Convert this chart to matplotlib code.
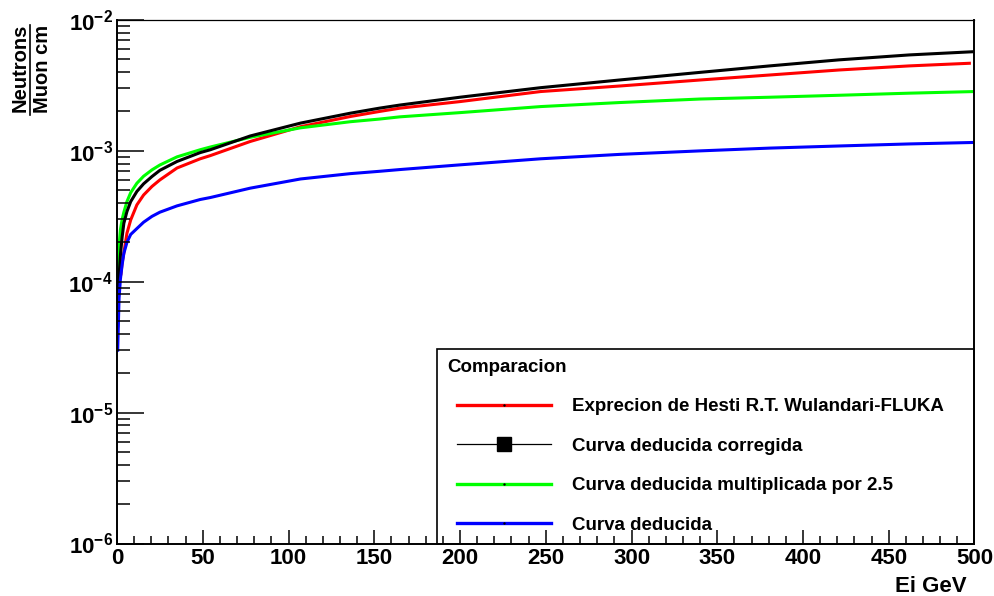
import numpy as np
import matplotlib
matplotlib.use("Agg")
import matplotlib.pyplot as plt
from matplotlib.lines import Line2D
from matplotlib.ticker import MultipleLocator, LogLocator, FuncFormatter, NullFormatter
from matplotlib.legend_handler import HandlerLine2D

plt.rcParams["font.family"] = ["Liberation Sans", "DejaVu Sans"]
plt.rcParams["font.weight"] = "bold"
plt.rcParams["mathtext.fontset"] = "custom"
plt.rcParams["mathtext.rm"] = "Liberation Sans:bold"
plt.rcParams["mathtext.bf"] = "Liberation Sans:bold"
plt.rcParams["mathtext.it"] = "Liberation Sans:bold"
plt.rcParams["mathtext.default"] = "rm"

# Muon energy (GeV) and neutron yield (neutrons / (muon cm))
energia = [0.4, 1.2, 2.0, 3.0, 4.0, 5.8, 8.0, 11.6, 15.5, 20.4, 25, 35,
           48.5, 54.4, 77.7, 107, 136, 153, 165, 200, 247, 293, 340,
           380.6, 421, 462, 500]
deducida = [3.0e-5, 7.5e-5, 1.05e-4, 1.35e-4, 1.65e-4, 2.0e-4, 2.3e-4,
            2.55e-4, 2.85e-4, 3.16e-4, 3.4e-4, 3.8e-4, 4.25e-4, 4.4e-4,
            5.19e-4, 6.1e-4, 6.7e-4, 6.98e-4, 7.2e-4, 7.82e-4, 8.7e-4,
            9.4e-4, 1.0e-3, 1.05e-3, 1.09e-3, 1.13e-3, 1.16e-3]
deducida_x25 = [7.5e-5, 1.9e-4, 2.5e-4, 3.0e-4, 3.4e-4, 4.1e-4, 4.8e-4,
                5.66e-4, 6.4e-4, 7.16e-4, 7.8e-4, 9.0e-4, 1.02e-3, 1.07e-3,
                1.27e-3, 1.5e-3, 1.67e-3, 1.75e-3, 1.82e-3, 1.96e-3,
                2.18e-3, 2.34e-3, 2.49e-3, 2.57e-3, 2.66e-3, 2.76e-3,
                2.84e-3]
corregida = [4.6e-5, 1.1e-4, 1.6e-4, 2.2e-4, 2.8e-4, 3.44e-4, 4.1e-4,
             4.9e-4, 5.6e-4, 6.37e-4, 7.1e-4, 8.3e-4, 9.7e-4, 1.02e-3,
             1.30e-3, 1.63e-3, 1.94e-3, 2.12e-3, 2.24e-3, 2.57e-3, 3.04e-3,
             3.48e-3, 3.98e-3, 4.46e-3, 4.96e-3, 5.41e-3, 5.73e-3]

energia_fluka = [2.3, 3.0, 4.0, 5.8, 8.0, 11.6, 15.5, 20.4, 25, 35, 48.5,
                 54.4, 77.7, 107, 136, 153, 165, 200, 247, 293, 340, 380.6,
                 421, 462, 497]
fluka = [1.15e-4, 1.4e-4, 1.66e-4, 2.35e-4, 2.97e-4, 3.87e-4, 4.6e-4,
         5.35e-4, 6.0e-4, 7.4e-4, 8.7e-4, 9.2e-4, 1.18e-3, 1.53e-3, 1.83e-3,
         2.0e-3, 2.12e-3, 2.38e-3, 2.84e-3, 3.13e-3, 3.48e-3, 3.80e-3,
         4.15e-3, 4.46e-3, 4.67e-3]

etiquetas = ["Exprecion de Hesti R.T. Wulandari-FLUKA",
             "Curva deducida corregida",
             "Curva deducida multiplicada por 2.5",
             "Curva deducida"]

W, H = 995, 596
fig = plt.figure(figsize=(W / 100, H / 100), dpi=100)
x0, x1, y0, y1 = 117.0, 974.5, 20.0, 543.5
ax = fig.add_axes([x0 / W, 1 - y1 / H, (x1 - x0) / W, (y1 - y0) / H])

lw = 2.2
ax.plot(energia_fluka, fluka, color="#ff0000", lw=lw, zorder=2.0)
ax.plot(energia, deducida_x25, color="#00ff00", lw=lw, zorder=2.05)
ax.plot(energia, corregida, color="black", lw=lw, zorder=2.1)
ax.plot(energia, deducida, color="#0000ff", lw=lw, zorder=2.15)

ax.set_xlim(0, 500)
ax.set_yscale("log")
ax.set_ylim(1e-6, 1e-2)

ax.xaxis.set_major_locator(MultipleLocator(50))
ax.xaxis.set_minor_locator(MultipleLocator(10))
ax.yaxis.set_major_locator(LogLocator(base=10))
ax.yaxis.set_minor_locator(LogLocator(base=10, subs=np.arange(2, 10)))
ax.yaxis.set_minor_formatter(NullFormatter())
ax.yaxis.set_major_formatter(
    FuncFormatter(lambda v, _: r"$10^{%d}$" % int(round(np.log10(v)))))

ax.tick_params(axis="y", which="major", direction="in", length=19.5,
               width=1.1, left=True, right=False, labelsize=16, pad=2.9)
ax.tick_params(axis="y", which="minor", direction="in", length=9.5,
               width=1.1, left=True, right=False)
ax.tick_params(axis="x", which="major", direction="in", length=10,
               width=1.1, bottom=True, top=False, labelsize=16, pad=3.2)
ax.tick_params(axis="x", which="minor", direction="in", length=6,
               width=1.1, bottom=True, top=False)

for side in ["left", "bottom", "right"]:
    ax.spines[side].set_linewidth(1.4)
ax.spines["top"].set_linewidth(0.9)
ax.set_axisbelow(False)

# legend
fs_leg = 13.5
fs_px = fs_leg * 100 / 72
handles = [
    Line2D([], [], color="#ff0000", lw=2.4, marker=".", markersize=1.5,
           mfc="black", mec="black"),
    Line2D([], [], color="black", lw=0.9, marker="s", markersize=10,
           mfc="black", mec="black"),
    Line2D([], [], color="#00ff00", lw=2.4, marker=".", markersize=1.5,
           mfc="black", mec="black"),
    Line2D([], [], color="#0000ff", lw=2.4, marker=".", markersize=1.5,
           mfc="black", mec="black"),
]
lx0 = (437.3 - x0) / (x1 - x0)
lh = (y1 - 346.0) / (y1 - y0)
leg = ax.legend(handles, etiquetas, title="Comparacion", loc="lower left",
                bbox_to_anchor=(lx0, 0, 1 - lx0, lh), mode="expand",
                borderaxespad=0, borderpad=9.5 / fs_px,
                labelspacing=1.2, handlelength=103.9 / fs_px,
                handletextpad=21.0 / fs_px, alignment="left",
                fancybox=False, framealpha=1, edgecolor="black",
                prop={"size": fs_leg, "weight": "bold"},
                title_fontproperties={"size": fs_leg, "weight": "bold"},
                handler_map={Line2D: HandlerLine2D(numpoints=1, xpad=10.5 / fs_px)})
leg.get_frame().set_linewidth(1.2)
leg.set_zorder(2.3)

# axis titles
fig.text(967 / W, 1 - 591.7 / H, "Ei GeV", ha="right", va="baseline",
         fontsize=16)
fig.text(26 / W, 1 - 68 / H, "Neutrons", rotation=90, rotation_mode="anchor",
         ha="center", va="baseline", fontsize=14.5)
fig.text(48 / W, 1 - 69 / H, "Muon cm", rotation=90, rotation_mode="anchor",
         ha="center", va="baseline", fontsize=14.5)
fig.add_artist(Line2D([30 / W, 30 / W], [1 - 25 / H, 1 - 115 / H],
                      transform=fig.transFigure, color="black", lw=1.2))

fig.savefig("out.png", dpi=100)
